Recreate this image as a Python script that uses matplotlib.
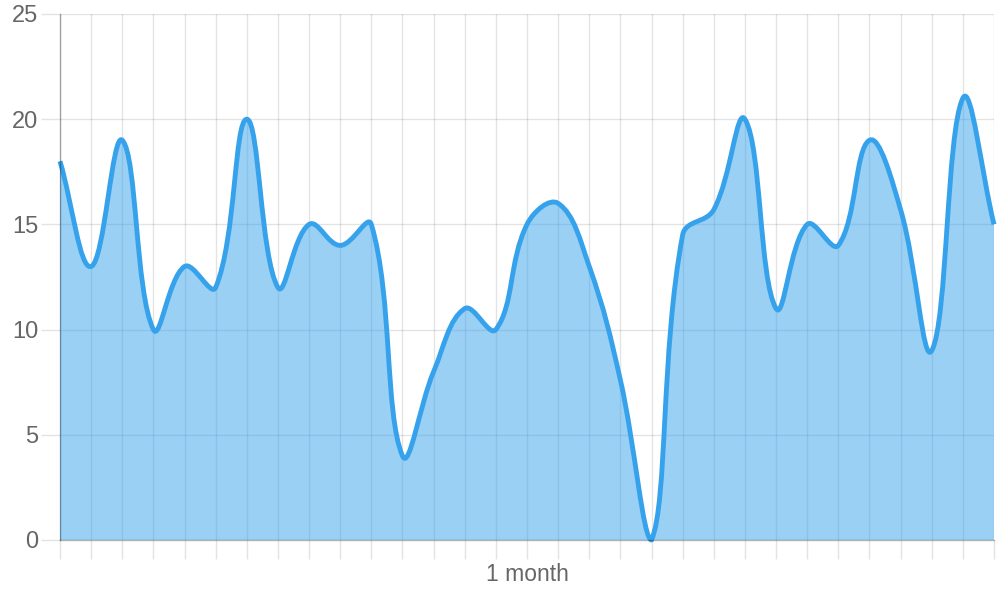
import numpy as np
import matplotlib
matplotlib.use("Agg")
import matplotlib.pyplot as plt
from matplotlib.path import Path
from matplotlib.patches import PathPatch

# one value per day
days = list(range(31))
values = [18, 13, 19, 10, 13, 12, 20, 12, 15, 14, 15, 4, 8, 11, 10, 15,
          16, 13, 7.6, 0, 14.5, 15.7, 20, 11, 15, 14, 19, 15.7, 9, 21, 15]
y_ticks = [0, 5, 10, 15, 20, 25]
x_title = "1 month"

LINE = "#36a2eb"
FILL = (54 / 255, 162 / 255, 235 / 255, 0.5)
AXIS = (0, 0, 0, 0.3)
TEXT = "#666666"

TENSION = 0.4
Y_MIN, Y_MAX = 0, 25


def spline_controls(xs, ys, sx, sy):
    # chart.js style bezier control points, distances measured in pixels
    n = len(xs)
    ctrl = []
    for i in range(n):
        px, py = (xs[i - 1], ys[i - 1]) if i > 0 else (xs[i], ys[i])
        nx, ny = (xs[i + 1], ys[i + 1]) if i < n - 1 else (xs[i], ys[i])
        cx, cy = xs[i], ys[i]
        d01 = np.hypot((cx - px) * sx, (cy - py) * sy)
        d12 = np.hypot((nx - cx) * sx, (ny - cy) * sy)
        tot = d01 + d12
        s01 = d01 / tot if tot else 0
        s12 = d12 / tot if tot else 0
        fa = TENSION * s01
        fb = TENSION * s12
        prev_c = [cx - fa * (nx - px), cy - fa * (ny - py)]
        next_c = [cx + fb * (nx - px), cy + fb * (ny - py)]
        # keep control points inside the chart area
        for c in (prev_c, next_c):
            c[0] = min(max(c[0], xs[0]), xs[-1])
            c[1] = min(max(c[1], Y_MIN), Y_MAX)
        ctrl.append((prev_c, next_c))
    return ctrl


def curve_path(xs, ys, sx, sy):
    ctrl = spline_controls(xs, ys, sx, sy)
    verts = [(xs[0], ys[0])]
    codes = [Path.MOVETO]
    for i in range(1, len(xs)):
        verts += [tuple(ctrl[i - 1][1]), tuple(ctrl[i][0]), (xs[i], ys[i])]
        codes += [Path.CURVE4] * 3
    return verts, codes


fig = plt.figure(figsize=(10, 6), dpi=100)
ax = fig.add_axes([0.060, 0.100, 0.934, 0.8767])

ax.set_xlim(days[0], days[-1])
ax.set_ylim(Y_MIN, Y_MAX)

# pixel size of one unit on each axis
sx = 934 / (days[-1] - days[0])
sy = 526 / (Y_MAX - Y_MIN)
verts, codes = curve_path(days, values, sx, sy)

fill_verts = verts + [(days[-1], 0), (days[0], 0), (days[0], values[0])]
fill_codes = codes + [Path.LINETO, Path.LINETO, Path.CLOSEPOLY]
ax.add_patch(PathPatch(Path(fill_verts, fill_codes), facecolor=FILL,
                       edgecolor="none", zorder=2))
ax.add_patch(PathPatch(Path(verts, codes), facecolor="none", edgecolor=LINE,
                       lw=3.5, capstyle="butt", joinstyle="round",
                       zorder=3, clip_on=False))

ax.set_xticks(days)
ax.set_xticklabels([])
ax.set_yticks(y_ticks)
ax.grid(True, color="black", alpha=0.11, lw=1, zorder=1)
ax.set_axisbelow(True)

for side in ("top", "right"):
    ax.spines[side].set_visible(False)
for side in ("left", "bottom"):
    ax.spines[side].set_color(AXIS)
    ax.spines[side].set_linewidth(1)
    ax.spines[side].set_zorder(4)

ax.tick_params(axis="both", length=14, width=1, color="#e3e3e3")
ax.tick_params(axis="y", pad=1.5, labelsize=17, labelcolor=TEXT)
for lab in ax.get_yticklabels():
    lab.set_fontfamily("Liberation Sans")

ax.set_xlabel(x_title, fontsize=16.5, color=TEXT, family="Liberation Sans")
ax.xaxis.set_label_coords(0.5, -(574 - 540) / 526)
ax.xaxis.label.set_va("center")

plt.savefig("out.png", dpi=100)
